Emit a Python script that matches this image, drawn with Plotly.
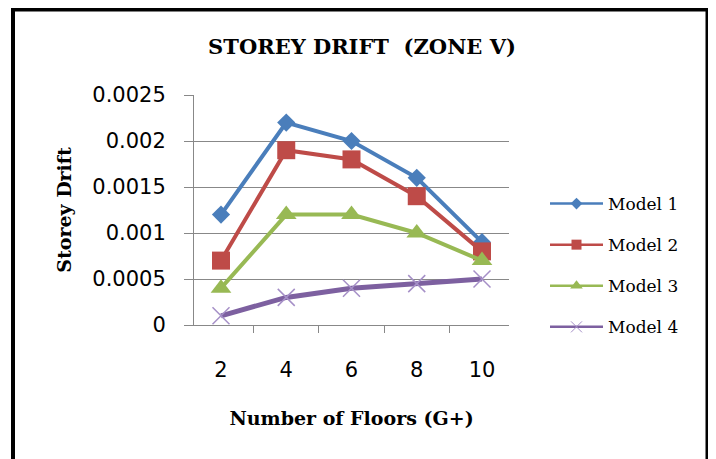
import plotly.graph_objects as go

floors = ["2", "4", "6", "8", "10"]
model1 = [0.0012, 0.0022, 0.0020, 0.0016, 0.0009]
model2 = [0.0007, 0.0019, 0.0018, 0.0014, 0.0008]
model3 = [0.0004, 0.0012, 0.0012, 0.0010, 0.0007]
model4 = [0.0001, 0.0003, 0.0004, 0.00045, 0.0005]
series_names = ["Model 1", "Model 2", "Model 3", "Model 4"]
y_tickvals = [0, 0.0005, 0.001, 0.0015, 0.002, 0.0025]
y_ticktext = ["0", "0.0005", "0.001", "0.0015", "0.002", "0.0025"]

colors = ["#4A7EBB", "#BE4B48", "#98B954", "#7D60A0"]
symbols = ["diamond", "square", "triangle-up", "x-thin"]
sizes = [14, 18, 18, 17]
legend_sizes = [9, 10, 11, 11]
widths = [4, 4, 4, 5]

fig = go.Figure()
for name, vals, c, s, sz, lsz, w in zip(series_names, [model1, model2, model3, model4],
                                        colors, symbols, sizes, legend_sizes, widths):
    marker = dict(symbol=s, size=sz, color=c)
    lmarker = dict(symbol=s, size=lsz, color=c)
    if s == "x-thin":
        marker["line"] = dict(color="#A58FC7", width=1.5)
        lmarker["line"] = dict(color="#A58FC7", width=1)
    fig.add_trace(go.Scatter(x=floors, y=vals, name=name, legendgroup=name,
                             mode="lines+markers", showlegend=False,
                             line=dict(color=c, width=w), marker=marker))
    # legend-only entry with the thinner legend line
    fig.add_trace(go.Scatter(x=[None], y=[None], name=name, legendgroup=name,
                             mode="lines+markers", showlegend=True,
                             line=dict(color=c, width=2.5), marker=lmarker))

serif = "DejaVu Serif"
sans = "DejaVu Sans"
L, T, W, H = 186, 87, 315, 230
fig.update_layout(
    width=716, height=459,
    margin=dict(l=L, r=716 - L - W, t=T, b=459 - T - H),
    paper_bgcolor="white", plot_bgcolor="white",
    title=dict(text="<b>STOREY DRIFT  (ZONE V)</b>", x=354 / 716, xanchor="center",
               y=1 - 39 / 459, yanchor="middle",
               font=dict(family=serif, size=21, color="black")),
    xaxis=dict(type="category", tickson="boundaries", ticks="outside", ticklen=7,
               tickcolor="#888888", showline=True, linecolor="#888888", linewidth=1,
               showgrid=False, tickfont=dict(family=sans, size=21, color="black"),
               ticklabelstandoff=26,
               title=dict(text="<b>Number of Floors (G+)</b>",
                          font=dict(family=serif, size=19, color="black"), standoff=30)),
    yaxis=dict(range=[0, 0.0025], tickvals=y_tickvals, ticktext=y_ticktext,
               ticks="outside", ticklen=9, tickcolor="#888888",
               showline=True, linecolor="#888888", linewidth=1,
               showgrid=True, gridcolor="#888888", gridwidth=1, zeroline=False,
               tickfont=dict(family=sans, size=21, color="black"),
               ticklabelstandoff=14,
               title=dict(text="<b>Storey Drift</b>",
                          font=dict(family=serif, size=19, color="black"), standoff=15)),
    legend=dict(x=(537 - L) / W, y=(317 - 257.5) / H, xanchor="left", yanchor="middle",
                font=dict(family=serif, size=17, color="black"),
                tracegroupgap=16, itemwidth=53,
                bgcolor="rgba(0,0,0,0)"),
    showlegend=True,
)
fig.add_shape(type="rect", xref="paper", yref="paper",
              x0=(5 - L) / W, x1=(699.5 - L) / W,
              y0=(T + H - 480) / H, y1=(T + H - 1.5) / H,
              line=dict(color="black", width=4), layer="above")
fig.write_html("out.html")
